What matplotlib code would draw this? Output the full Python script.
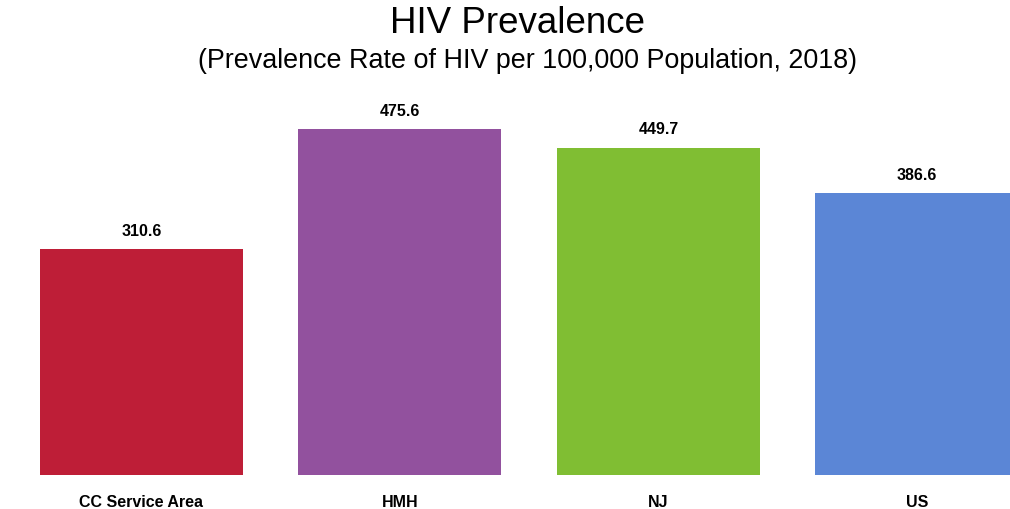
import matplotlib
matplotlib.use('Agg')
from matplotlib import pyplot as plt

# data
categories = ['CC Service Area', 'HMH', 'NJ', 'US']
values = [310.6, 475.6, 449.7, 386.6]
colors = ['#BE1E37', '#92519E', '#80BE33', '#5B86D6']

plt.rcParams['font.family'] = ['Liberation Sans', 'DejaVu Sans']

fig = plt.figure(figsize=(10.1, 5.1), dpi=100)
ax = fig.add_axes([0, 34.5 / 510, 1, 378 / 510])

x = list(range(len(categories)))
ax.bar(x, values, width=0.785, color=colors)

for xi, v in zip(x, values):
    ax.annotate(f'{v:.1f}', (xi, v), xytext=(0, 8), textcoords='offset points',
                ha='center', va='bottom', fontsize=11.5, fontweight='bold')

ax.set_xlim(-0.547, 3.36)
ax.set_ylim(0, 520)
ax.set_xticks(x)
ax.set_xticklabels(categories, fontsize=11.5, fontweight='bold')
ax.tick_params(axis='x', length=0, pad=14)
ax.set_yticks([])
for s in ax.spines.values():
    s.set_visible(False)

# titles sit a little right of centre in the original
fig.text(517 / 1010, 1 - 23.5 / 510, 'HIV Prevalence', ha='center', va='center', fontsize=26.5)
fig.text(528 / 1010, 1 - 61 / 510, '(Prevalence Rate of HIV per 100,000 Population, 2018)',
         ha='center', va='center', fontsize=19.4)

fig.savefig('out.png', dpi=100)
